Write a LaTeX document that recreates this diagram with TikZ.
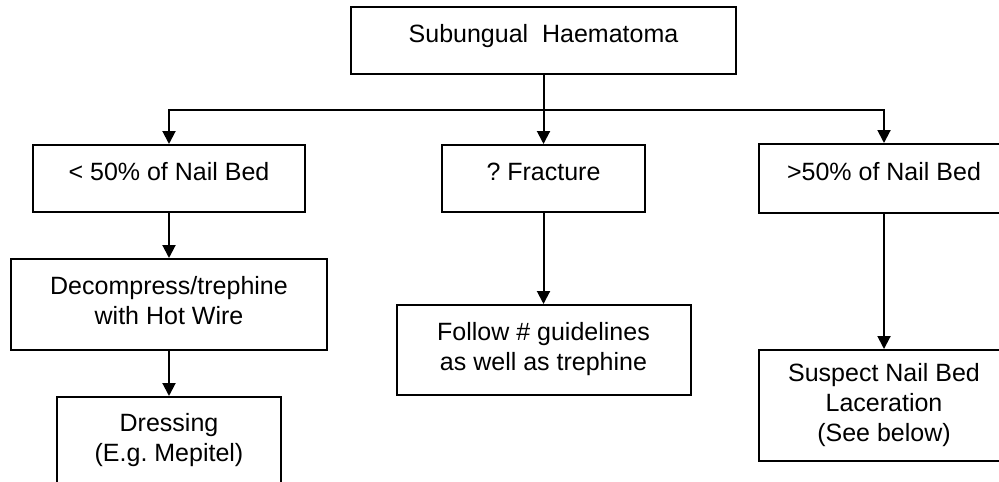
\documentclass[tikz,border=0pt]{standalone}
\usepackage{fontspec}
\setmainfont{Liberation Sans}
\frenchspacing
\usetikzlibrary{positioning,arrows.meta,calc}

\begin{document}
\begin{tikzpicture}[
  x=0.5pt, y=-0.5pt,
  font=\fontsize{12.5}{15}\selectfont,
  box/.style={draw, line width=1pt, align=center, inner sep=2pt},
  onerow/.style={box, text height=9pt, text depth=7pt},
  tworow/.style={box, text depth=4pt},
  arr/.style={-{Triangle[length=6.5pt, width=6.5pt]}, line width=1pt},
  node distance=22.5pt]

\useasboundingbox (0,0) rectangle (999,481);
\clip (0,0) rectangle (999,481);

% top of the tree
\node[onerow, minimum width=192.5pt, minimum height=33.5pt] (top) at (543.5,40.5) {Subungual~~Haematoma};

% second row
\node[onerow, minimum width=101.5pt, minimum height=33.5pt, below=34.5pt of top] (frac) {? Fracture};
\node[onerow, minimum width=136pt, minimum height=33.5pt, left=67.5pt of frac] (lt) {< 50\% of Nail Bed};
\node[onerow, minimum width=125pt, minimum height=34.5pt, right=56pt of frac] (gt) {>50\% of Nail Bed};

% left column
\node[tworow, minimum width=158pt, minimum height=45.5pt, below=of lt] (dec) {Decompress/trephine\\with Hot Wire};
\node[box, minimum width=112pt, minimum height=43.5pt, below=of dec] (dress) {Dressing\\(E.g.\ Mepitel)};

% middle column
\node[tworow, minimum width=147pt, minimum height=45pt, below=45.5pt of frac] (follow) {Follow \# guidelines\\as well as trephine};

% right column
\node[box, minimum width=125pt, minimum height=55.5pt, below=67.5pt of gt] (susp) {Suspect Nail Bed\\Laceration\\(See below)};

% connectors
\coordinate (split) at ($(top.south)!0.5!(frac.north)$);
\draw[arr] (top) -- (frac);
\draw[arr] (split) -| (lt.north);
\draw[arr] (split) -| (gt.north);
\draw[arr] (lt) -- (dec);
\draw[arr] (dec) -- (dress);
\draw[arr] (frac) -- (follow);
\draw[arr] (gt) -- (susp);
\end{tikzpicture}
\end{document}
